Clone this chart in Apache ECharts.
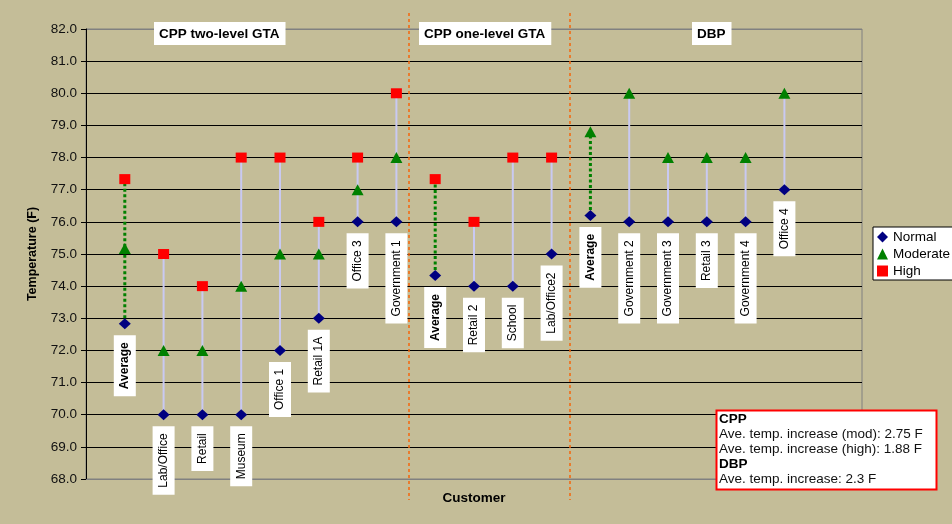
<!DOCTYPE html>
<html>
<head>
<meta charset="utf-8">
<script src="https://cdn.jsdelivr.net/npm/echarts@6/dist/echarts.min.js"></script>
<style>
  html, body { margin: 0; padding: 0; background: #C4BD98; }
  #chart { width: 952px; height: 524px; }
</style>
</head>
<body>
<div id="chart"></div>
<script>
// Customers in plotting order (three programme groups)
const categories = ['Average', 'Lab/Office', 'Retail', 'Museum', 'Office 1', 'Retail 1A', 'Office 3', 'Government 1',
                    'Average', 'Retail 2', 'School', 'Lab/Office2',
                    'Average', 'Government 2', 'Government 3', 'Retail 3', 'Government 4', 'Office 4'];
// Set-point temperatures (F) per customer
const normal   = [72.83, 70, 70, 70, 72, 73, 76, 76, 74.33, 74, 74, 75, 76.2, 76, 76, 76, 76, 77];
const moderate = [75.17, 72, 72, 74, 75, 75, 77, 78, null, null, null, null, 78.8, 80, 78, 78, 78, 80];
const high     = [77.33, 75, 74, 78, 78, 76, 78, 80, 77.33, 76, 78, 78, null, null, null, null, null, null];
// Temperature axis
const yMin = 68, yMax = 82, yStep = 1;
// Group headings and the boundaries between the groups (in customer-slot units)
const groupTitles = ['CPP two-level GTA', 'CPP one-level GTA', 'DBP'];
const groupBounds = [8.33, 12.48];
// Summary note
const noteHeads = ['CPP', 'DBP'];
const noteCpp = ['Ave. temp. increase (mod): 2.75 F', 'Ave. temp. increase (high): 1.88 F'];
const noteDbp = ['Ave. temp. increase: 2.3 F'];

const FONT = '"Liberation Sans", Arial, sans-serif';
const isAvg = name => name === 'Average';

const normalData = normal.map((v, i) => ({
  name: categories[i],
  value: [i + 1, v],
  label: { fontWeight: isAvg(categories[i]) ? 'bold' : 'normal' }
}));
const moderateData = moderate.map((v, i) => v == null ? null : [i + 1, v]);
const highData = high.map((v, i) => v == null ? null : [i + 1, v]);

// Low/high span of each customer, for the connecting lines
const spans = categories.map((c, i) => {
  const vals = [normal[i], moderate[i], high[i]].filter(v => v != null);
  return { value: [i + 1, Math.min(...vals), Math.max(...vals)], avg: isAvg(c) };
});

const splitColors = [];
for (let v = yMin; v <= yMax; v += yStep) {
  splitColors.push(v === yMin || v === yMax ? '#808080' : '#000000');
}

function spanRenderer(wantAvg) {
  return function (params, api) {
    const s = spans[params.dataIndex];
    if (s.avg !== wantAvg) return null;
    const p1 = api.coord([api.value(0), api.value(1)]);
    const p2 = api.coord([api.value(0), api.value(2)]);
    return {
      type: 'line',
      shape: { x1: p1[0], y1: p1[1], x2: p2[0], y2: p2[1] },
      style: wantAvg
        ? { stroke: '#008000', lineWidth: 3, lineDash: [3, 2.5] }
        : { stroke: '#C9C9F2', lineWidth: 2 }
    };
  };
}

const chart = echarts.init(document.getElementById('chart'));
chart.setOption({
  backgroundColor: '#C4BD98',
  animation: false,
  grid: { left: 86, right: 90, top: 29, bottom: 45, show: true, borderColor: '#808080', borderWidth: 1 },
  legend: {
    data: ['Normal', 'Moderate', 'High'],
    orient: 'vertical',
    left: 873, top: 227,
    backgroundColor: '#ffffff',
    borderColor: '#000000', borderWidth: 1,
    padding: [3, 14, 2, 4],
    itemWidth: 11, itemHeight: 11, itemGap: 3, itemTextGap: 2,
    textStyle: { fontFamily: FONT, fontSize: 13.5, color: '#000' }
  },
  xAxis: {
    type: 'value', min: 0, max: 20,
    name: 'Customer', nameLocation: 'middle', nameGap: 12,
    nameTextStyle: { fontFamily: FONT, fontSize: 13.5, fontWeight: 'bold', color: '#000' },
    axisLine: { show: true, lineStyle: { color: '#808080' } },
    axisTick: { show: false }, axisLabel: { show: false }, splitLine: { show: false }
  },
  yAxis: {
    type: 'value', min: yMin, max: yMax, interval: yStep,
    name: 'Temperature (F)', nameLocation: 'middle', nameGap: 47,
    nameTextStyle: { fontFamily: FONT, fontSize: 12.5, fontWeight: 'bold', color: '#000' },
    axisLine: { show: true, lineStyle: { color: '#000' } },
    axisTick: { show: true, length: 5, lineStyle: { color: '#000' } },
    axisLabel: { margin: 9, fontFamily: FONT, fontSize: 13.5, color: '#111', formatter: v => v.toFixed(1) },
    splitLine: { show: true, lineStyle: { color: splitColors, width: 1 } }
  },
  series: [
    {
      name: 'span', type: 'custom', data: spans.map(s => s.value), z: 2,
      renderItem: spanRenderer(false), silent: true
    },
    {
      name: 'avgSpan', type: 'custom', data: spans.map(s => s.value), z: 2,
      renderItem: spanRenderer(true), silent: true
    },
    {
      name: 'Moderate', type: 'scatter', data: moderateData, z: 3,
      symbol: 'triangle', symbolSize: [12, 11],
      itemStyle: { color: '#008000', opacity: 1 }
    },
    {
      name: 'High', type: 'scatter', data: highData, z: 4,
      symbol: 'rect', symbolSize: [11, 10],
      itemStyle: { color: '#FF0000', opacity: 1 }
    },
    {
      name: 'Normal', type: 'scatter', data: normalData, z: 5,
      symbol: 'diamond', symbolSize: [12, 11],
      itemStyle: { color: '#000080', opacity: 1 },
      label: {
        show: true, position: 'bottom', distance: 6, rotate: 90,
        align: 'right', verticalAlign: 'middle',
        formatter: '{b}', color: '#000', fontFamily: FONT, fontSize: 12,
        backgroundColor: '#ffffff', padding: [5, 7, 5, 7]
      }
    }
  ]
});

// Group separators, headings and the summary note
const topY = 13, botY = 500;
const graphics = groupBounds.map(b => {
  const x = Math.round(chart.convertToPixel({ xAxisIndex: 0 }, b));
  return {
    type: 'line', z: 1, silent: true,
    shape: { x1: x, y1: topY, x2: x, y2: botY },
    style: { stroke: '#F5660A', lineWidth: 1.5, lineDash: [3, 3] }
  };
});
const titleLefts = [154, 419, 692];
groupTitles.forEach((t, i) => {
  graphics.push({
    type: 'text', z: 10, left: titleLefts[i], top: 22,
    style: {
      text: t, fontFamily: FONT, fontSize: 13.5, fontWeight: 'bold', fill: '#000',
      backgroundColor: '#ffffff', padding: [5, 6, 4, 5]
    }
  });
});
graphics.push({
  type: 'rect', z: 10,
  shape: { x: 716.5, y: 410.5, width: 220, height: 79 },
  style: { fill: '#ffffff', stroke: '#FF0000', lineWidth: 2 }
});
const noteText = ['{h|' + noteHeads[0] + '}']
  .concat(noteCpp.map(s => '{t|' + s + '}'))
  .concat(['{h|' + noteHeads[1] + '}'])
  .concat(noteDbp.map(s => '{t|' + s + '}'))
  .join('\n');
graphics.push({
  type: 'text', z: 11, x: 719, y: 412,
  style: {
    text: noteText, fill: '#000',
    rich: {
      h: { fontFamily: FONT, fontSize: 13.5, fontWeight: 'bold', lineHeight: 15, fill: '#000' },
      t: { fontFamily: FONT, fontSize: 13.5, lineHeight: 15, fill: '#111' }
    }
  }
});
chart.setOption({ graphic: graphics });
</script>
</body>
</html>
